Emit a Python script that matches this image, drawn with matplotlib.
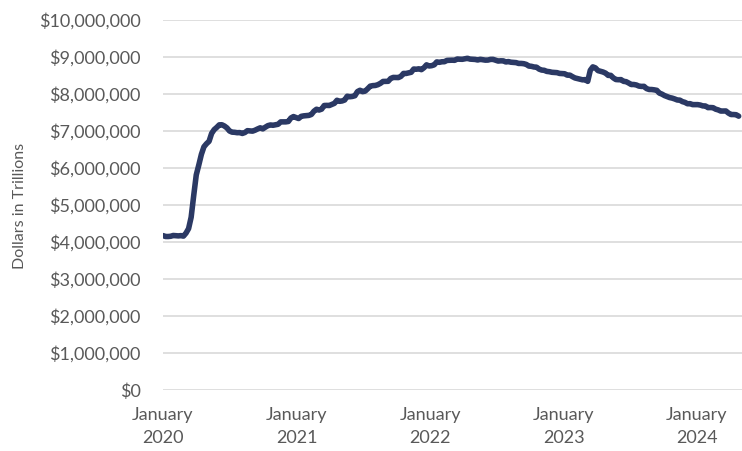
import matplotlib
matplotlib.use("Agg")
import matplotlib.pyplot as plt
import matplotlib.dates as mdates
from matplotlib.ticker import FuncFormatter
import numpy as np
import pandas as pd

# Weekly total assets (millions of dollars), Wednesday levels
assets_2020 = [
    4173, 4149, 4148, 4155, 4176,
    4172, 4165, 4172, 4159,
    4241, 4362, 4668, 5254,
    5813, 6083, 6368, 6573, 6656,
    6721, 6934, 7037, 7097,
    7166, 7169, 7135, 7083,
    7000, 6969, 6965, 6954, 6957,
    6934, 6959, 7009, 7004,
    6996, 7022, 7056, 7086, 7057,
    7103, 7145, 7163, 7155,
    7167, 7182, 7246, 7247,
    7247, 7258, 7352, 7390, 7362,
]
assets_2021 = [
    7337, 7396, 7409, 7414,
    7422, 7447, 7535, 7588,
    7567, 7591, 7689, 7692, 7689,
    7717, 7748, 7830, 7802,
    7812, 7838, 7940, 7926,
    7934, 7953, 8065, 8101, 8064,
    8077, 8142, 8212, 8226,
    8231, 8252, 8289, 8339,
    8340, 8343, 8420, 8448, 8447,
    8444, 8477, 8556, 8555,
    8571, 8587, 8675, 8669,
    8681, 8658, 8710, 8788, 8757,
]
assets_2022 = [
    8766, 8788, 8868, 8856,
    8871, 8873, 8908, 8912,
    8914, 8910, 8946, 8940, 8938,
    8950, 8965, 8943, 8937,
    8934, 8919, 8937, 8926,
    8915, 8917, 8935, 8936, 8913,
    8890, 8897, 8895, 8866,
    8876, 8859, 8853, 8848, 8826,
    8826, 8819, 8799, 8755,
    8748, 8730, 8725, 8673,
    8647, 8640, 8611, 8603, 8587,
    8581, 8577, 8556, 8551,
]
assets_2023 = [
    8547, 8509, 8511, 8470,
    8434, 8417, 8397, 8383,
    8389, 8342, 8639, 8733, 8706,
    8633, 8614, 8594, 8563,
    8503, 8504, 8436, 8391, 8386,
    8389, 8342, 8334, 8297,
    8256, 8257, 8244, 8214,
    8205, 8207, 8146, 8122, 8121,
    8112, 8099, 8025, 7997,
    7958, 7932, 7904, 7889,
    7866, 7838, 7834, 7794, 7774,
    7736, 7739, 7713, 7713,
]
assets_2024 = [
    7713, 7701, 7678, 7677, 7632,
    7634, 7630, 7590, 7570,
    7539, 7540, 7541, 7485,
    7445, 7445, 7440, 7401,
]

year_starts = ["2020-01-01", "2021-01-06", "2022-01-05", "2023-01-04", "2024-01-03"]
year_values = [assets_2020, assets_2021, assets_2022, assets_2023, assets_2024]

dates = []
values = []
for start, vals in zip(year_starts, year_values):
    dates.extend(pd.date_range(start, periods=len(vals), freq="7D"))
    values.extend(v * 1000 for v in vals)
dates = pd.to_datetime(dates)
values = np.array(values, dtype=float)

tick_years = [2020, 2021, 2022, 2023, 2024]
tick_labels = [f"January\n{y}" for y in tick_years]

plt.rcParams["font.family"] = ["Lato", "DejaVu Sans"]
text_color = "#595959"
line_color = "#2b3964"

W, H = 742, 451
fig = plt.figure(figsize=(W / 100, H / 100), dpi=100)
left, right, top, bottom = 163, 742, 20, 390
ax = fig.add_axes([left / W, (H - bottom) / H, (right - left) / W, (bottom - top) / H])

ax.plot(dates, values, color=line_color, linewidth=4.0, solid_capstyle="round",
        solid_joinstyle="round", zorder=3)

x0 = pd.Timestamp("2020-01-01")
px_per_day = 133.5 / 365.25
ax.set_xlim(mdates.date2num(x0), mdates.date2num(x0) + (right - left) / px_per_day)
ax.set_ylim(0, 10_000_000)

ax.set_yticks(np.arange(0, 10_000_001, 1_000_000))
ax.yaxis.set_major_formatter(FuncFormatter(lambda v, p: f"${v:,.0f}"))
ax.set_xticks([mdates.date2num(pd.Timestamp(f"{y}-01-01")) for y in tick_years])
ax.set_xticklabels(tick_labels, linespacing=1.6)

ax.grid(axis="y", color="#d9d9d9", linewidth=1.2, zorder=0)
ax.set_axisbelow(True)
for s in ax.spines.values():
    s.set_visible(False)
ax.tick_params(axis="both", length=0, colors=text_color, labelsize=13)
ax.tick_params(axis="y", pad=16)
ax.tick_params(axis="x", pad=12)

fig.text(20 / W, 1 - 206 / H, "Dollars in Trillions", rotation=90, color=text_color,
         fontsize=11.5, ha="center", va="center")

fig.savefig("out.png", dpi=100)
